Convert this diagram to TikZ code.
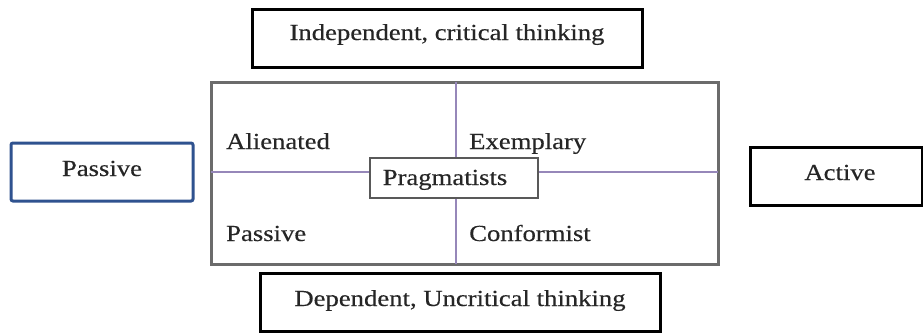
\documentclass[tikz,border=0pt]{standalone}
\usepackage{fontspec}
\setmainfont[FakeStretch=1.16,FakeBold=0.4]{Liberation Serif}
\begin{document}
\begin{tikzpicture}[x=1pt,y=-1pt,
  txt/.style={anchor=base,inner sep=0pt,text=black!85,font=\fontsize{23}{27}\selectfont},
  outerbox/.style={draw=black,line width=3pt,inner sep=0pt},
  bluebox/.style={draw={rgb,255:red,47;green,82;blue,143},line width=3pt,rounded corners=2pt,inner sep=0pt},
  mainbox/.style={draw=black!58,line width=3pt,inner sep=0pt},
  divider/.style={draw={rgb,255:red,150;green,135;blue,185},line width=1.2pt},
  centerbox/.style={draw=black!65,line width=1.5pt,fill=white,inner sep=0pt}]
\useasboundingbox (0,0) rectangle (923,332);
% boxes
\node[outerbox,minimum width=390pt,minimum height=58pt] (top) at (447,38) {};
\node[outerbox,minimum width=400pt,minimum height=58pt] (bottom) at (460,302) {};
\node[bluebox,minimum width=182pt,minimum height=58pt] (left) at (102,172) {};
\node[outerbox,minimum width=172pt,minimum height=58pt] (right) at (836,176) {};
\node[mainbox,minimum width=507pt,minimum height=182pt] (main) at (464.5,173) {};
% dividers
\coordinate (vt) at (456,82);
\coordinate (vb) at (456,264);
\coordinate (hl) at (211,172);
\coordinate (hr) at (718,172);
\draw[divider] (vt) -- (vb);
\draw[divider] (hl) -- (hr);
\node[centerbox,minimum width=168pt,minimum height=40pt] (prag) at (454,178) {};
% texts
\node[txt] (toptxt) at (447,40) {Independent, critical thinking};
\node[txt] (bottxt) at (460,306) {Dependent, Uncritical thinking};
\node[txt] (lefttxt) at (102,176) {Passive};
\node[txt] (righttxt) at (840,180) {Active};
\node[txt,anchor=base west] (alien) at (226,149) {Alienated};
\node[txt,anchor=base west] (exemp) at (469,149) {Exemplary};
\node[txt,anchor=base west] (pass) at (226,241) {Passive};
\node[txt,anchor=base west] (conf) at (469,241) {Conformist};
\node[txt] (pragtxt) at (445,185) {Pragmatists};
\end{tikzpicture}
\end{document}
